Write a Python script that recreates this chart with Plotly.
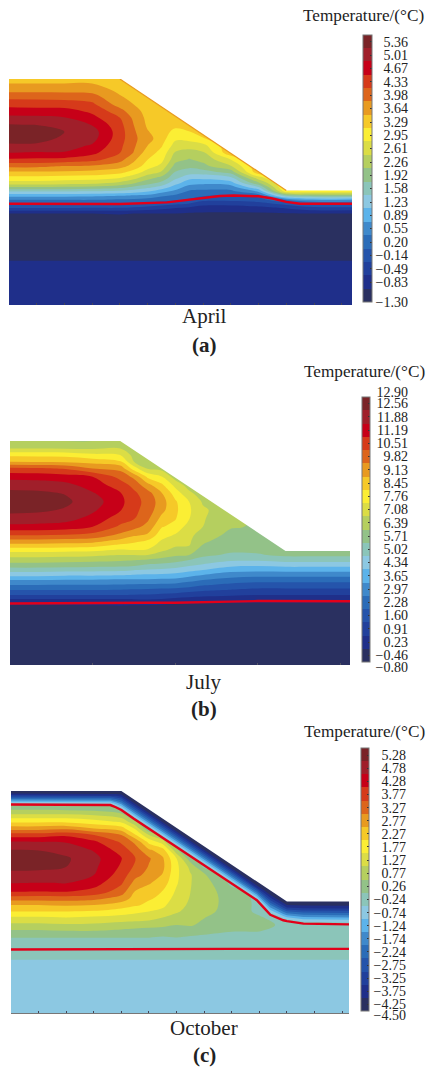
import numpy as np
import plotly.graph_objects as go

W, H = 426, 1067
BAND_COLORS = ["#2a3060","#1f2f8a","#21409c","#2554ab","#2b6cb8","#3f89cb","#5cb3ea","#8cc8e2","#8bc5b9","#93c288",
               "#b5cf5f","#dbdd45","#fbee34","#f6c928","#e89a20","#dd651b","#d63a1a","#c70018","#a01f2a","#7a2327"]

# ---------- April ----------
apr_x = [0,1,2,3,4,4.5,5,5.5,6,6.5,7,8,9,10,11,12.5]
apr_y = [0,1.6,3.0,3.3,3.5,3.65,3.8,3.95,4.1,4.25,4.4,4.6,4.8,5,5.25,5.5,5.75,6,6.25,6.5,6.75,7,7.25,7.5,7.75,8,8.25]
apr_columns = [
 [-.75,-1.0,-1.15,-1.0,-.30,.03,.40,.85,1.45,2.09,2.65,3.05,3.45,3.9,4.47,4.87,5.13,5.38,5.42,5.22,4.98,4.63,4.40,4.05,3.72,3.47,3.0],
 [-.75,-1.0,-1.15,-1.0,-.30,.03,.40,.85,1.45,2.09,2.65,3.05,3.45,3.9,4.45,4.84,5.12,5.36,5.45,5.19,4.95,4.62,4.38,4.05,3.72,3.47,3.0],
 [-.75,-1.0,-1.15,-1.0,-.30,.03,.40,.85,1.45,2.05,2.6,3.0,3.44,3.8,4.42,4.84,5.0,5.12,5.2,5.05,4.88,4.65,4.32,4.05,3.7,3.47,3.1],
 [-.75,-1.0,-1.15,-1.0,-.32,.03,.4,.83,1.4,2.0,2.55,2.97,3.38,3.76,4.3,4.62,4.82,4.98,5.02,4.84,4.62,4.43,4.23,3.97,3.7,3.47,3.1],
 [-.75,-1.0,-1.15,-.98,-.32,.02,.35,.76,1.33,1.87,2.35,2.83,3.25,3.6,3.95,4.18,4.25,4.32,4.33,4.28,4.17,3.95,3.65,3.52,3.38,3.3,3.2],
 [-.75,-1.0,-1.15,-1.0,-.38,-.02,.33,.7,1.25,1.68,2.13,2.6,3.0,3.35,3.55,3.81,3.88,3.9,3.88,3.82,3.75,3.6,3.47,3.36,3.28,3.2],
 [-.75,-1.0,-1.15,-1.0,-.45,-.08,.26,.65,1.1,1.5,1.9,2.25,2.65,2.95,3.14,3.3,3.48,3.62,3.5,3.42,3.38,3.36,3.38,3.4,3.42],
 [-.75,-1.0,-1.15,-1.0,-.55,-.15,.18,.45,.85,1.28,1.65,2.02,2.42,2.68,2.9,3.03,3.17,3.28,3.32,3.33,3.35,3.38,3.42],
 [-.75,-1.0,-1.15,-1.0,-.65,-.25,.1,.33,.64,.9,1.2,1.52,1.74,1.97,2.22,2.41,2.65,2.85,3.02,3.25,3.38,3.42],
 [-.75,-1.0,-1.15,-1.05,-.72,-.32,0,.17,.33,.57,.86,1.2,1.6,1.83,2.08,2.3,2.6,2.9,3.11,3.42],
 [-.75,-1.0,-1.15,-1.05,-.8,-.55,-.18,.08,.3,.52,.8,1.2,1.6,2.0,2.2,2.41,2.68,3.1,3.42],
 [-.75,-1.0,-1.15,-1.05,-.82,-.55,-.2,.03,.3,.54,.93,1.37,1.92,2.4,2.8,3.42],
 [-.75,-1.0,-1.15,-1.05,-.78,-.43,-.15,.2,.77,1.4,2.04,2.68,3.42],
 [-.75,-1.0,-1.15,-1.02,-.62,-.2,.42,1.7,3.05,3.3],
 [-.75,-1.0,-1.15,-1.0,-.4,.03,.76,1.95,3.0,3.3],
 [-.75,-1.0,-1.15,-1.0,-.4,.03,.76,1.95,3.0,3.3],
]
apr_surface_x = [0,4,10,12.37]
apr_surface_y = [8.15,8.15,4.13,4.13]
apr_zero_x = [0,4,5.7,6.9,7.6,8.1,9,9.5,10,10.5,12.37]
apr_zero_y = [3.65,3.64,3.70,3.85,3.93,3.95,3.92,3.84,3.72,3.65,3.65]
apr_labels = ["5.36","5.01","4.67","4.33","3.98","3.64","3.29","2.95","2.61","2.26","1.92","1.58","1.23","0.89","0.55","0.20","\u22120.14","\u22120.49","\u22120.83","\u22121.30"]
apr_label_pos = [5.36,5.01,4.67,4.33,3.98,3.64,3.29,2.95,2.61,2.26,1.92,1.58,1.23,0.89,0.55,0.20,-0.14,-0.49,-0.83,-1.34]

# ---------- July ----------
jul_x = [0,1,2,3,4,4.5,5,5.5,6,6.5,7,8,9,10,11,12.5]
jul_y = [0,1.93,2.17,2.35,2.53,2.71,2.89,3.07,3.25,3.43,3.61,3.79,3.97,4.15,4.33,4.51,4.69,4.99,5.29,5.60,5.90,6.20,6.50,6.80,7.10,7.34,7.58,7.82,8.09,8.30]
jul_columns = [
 [-.45,-.4,-.115,.42,1.255,1.94,2.625,3.3,4.2,5.0,5.75,6.4,7.0,7.7,8.55,9.37,10.16,11.35,11.95,12.4,12.8,12.4,11.95,11.3,10.3,8.79,7.95,6.735,6.05,5.8],
 [-.45,-.4,-.115,.42,1.255,1.94,2.625,3.3,4.2,5.0,5.75,6.4,7.0,7.7,8.55,9.37,10.16,11.3,11.9,12.35,12.72,12.35,11.9,11.25,10.25,8.75,7.95,6.72,6.05,5.8],
 [-.45,-.4,-.115,.42,1.25,1.94,2.6,3.25,4.1,4.95,5.7,6.35,6.95,7.65,8.5,9.3,10.1,11.2,11.8,12.15,12.35,12.18,11.75,11.1,10.1,8.7,7.9,6.7,6.05,5.8],
 [-.45,-.4,-.1,.42,1.255,1.94,2.6,3.25,4.1,4.9,5.65,6.25,6.87,7.6,8.4,9.2,9.93,10.845,11.3,11.65,11.85,11.6,11.2,10.845,9.475,8.55,7.6,6.65,6.05,5.8],
 [-.45,-.4,-.08,.43,1.25,1.9,2.55,3.2,4.05,4.85,5.6,6.15,6.735,7.33,8.0,8.67,9.3,10.03,10.5,10.9,11.05,10.9,10.5,9.95,9.25,8.2,7.42,6.735,6.3,6.1],
 [-.45,-.4,-.1,.45,1.22,1.85,2.52,3.2,3.95,4.7,5.5,6.08,6.735,7.42,7.9,8.33,8.9,9.7,10.2,10.35,10.4,10.3,9.95,9.3,7.75,6.735,6.5,6.4],
 [-.45,-.4,-.1,.5,1.2,1.8,2.5,3.2,3.9,4.6,5.27,5.95,6.735,7.35,7.75,8.105,8.67,9.25,9.6,9.85,9.95,9.75,9.0,7.95,6.65,6.5,6.4],
 [-.45,-.4,-.15,.45,1.1,1.75,2.45,3.15,3.85,4.55,5.15,5.85,6.35,6.9,7.15,7.4,7.7,8.15,8.6,9.0,9.1,8.85,8.25,7.45,6.5,6.4],
 [-.45,-.4,-.2,.3,1.0,1.7,2.4,3.1,3.77,4.45,5.0,5.65,6.15,6.5,6.85,7.05,7.35,7.9,8.15,8.25,8.2,7.8,7.2,6.4,6.3],
 [-.45,-.4,-.22,.25,.85,1.55,2.25,2.85,3.55,4.2,4.8,5.365,6.05,6.4,6.78,6.85,6.95,7.1,7.45,7.52,7.42,6.9,6.4],
 [-.45,-.4,-.3,.2,.75,1.38,2.0,2.625,3.31,3.995,4.6,5.1,5.5,5.75,6.02,6.2,6.35,6.735,6.8,6.85,6.65,6.35,6.3],
 [-.45,-.4,-.3,.15,.65,1.22,1.76,2.34,2.95,3.57,4.2,4.8,5.27,5.47,5.62,5.76,5.9,6.1,6.2,6.3],
 [-.45,-.4,-.3,.07,.57,1.08,1.63,2.2,2.85,3.5,4.13,4.78,5.3,5.5,5.65,5.78,5.9,6.0],
 [-.45,-.4,-.3,.07,.57,1.08,1.63,2.2,2.85,3.55,4.25,4.95,5.5,5.85,5.9],
 [-.45,-.4,-.3,.07,.57,1.08,1.63,2.2,2.85,3.55,4.25,4.95,5.5,5.85,5.9],
 [-.45,-.4,-.3,.07,.57,1.08,1.63,2.2,2.85,3.55,4.25,4.95,5.5,5.85,5.9],
]
jul_surface_x = [0,4,10,12.34]
jul_surface_y = [8.09,8.09,4.12,4.12]
jul_zero_x = [0,1,2,3,4,5,6,7,8,9,10,11,12.34]
jul_zero_y = [2.22,2.23,2.22,2.24,2.24,2.25,2.25,2.28,2.29,2.31,2.30,2.30,2.30]
jul_labels = ["12.90","12.56","11.88","11.19","10.51","9.82","9.13","8.45","7.76","7.08","6.39","5.71","5.02","4.34","3.65","2.97","2.28","1.60","0.91","0.23","\u22120.46","\u22120.80"]
jul_label_pos = [13.16,12.56,11.88,11.19,10.51,9.82,9.13,8.45,7.76,7.08,6.39,5.71,5.02,4.34,3.65,2.97,2.28,1.60,0.91,0.23,-0.46,-1.06]

# ---------- October ----------
oct_x = [0,1,2,3,4,4.5,5,5.5,6,6.5,7,8,9,10,11,12.5]
oct_y = [0,1.81,2.06,2.36,2.72,2.96,3.20,3.45,3.69,3.93,4.17,4.41,4.72,5.02,5.32,5.62,5.93,6.23,6.47,6.71,6.95,7.19,7.44,7.68,7.92,8.10]
oct_columns = [
 [-.62,-.56,-.40,-.1,0,.41,.9,1.4,2.04,2.54,3.3,4.05,4.55,4.9,5.2,5.38,5.05,4.55,3.8,2.8,1.95,1.15,.35],
 [-.62,-.56,-.40,-.1,0,.41,.9,1.4,2.04,2.54,3.28,4.03,4.53,4.88,5.17,5.32,5.03,4.53,3.8,2.8,1.95,1.15,.35],
 [-.62,-.56,-.40,-.1,0,.47,.96,1.47,2.04,2.6,3.3,4.05,4.55,4.78,5.05,5.12,4.85,4.5,3.95,2.9,1.95,1.15,.3],
 [-.62,-.56,-.40,-.1,0,.47,.93,1.4,1.98,2.54,3.2,3.87,4.25,4.55,4.65,4.7,4.5,4.13,3.55,2.54,1.75,1.03,.25],
 [-.62,-.56,-.40,-.1,0,.37,.84,1.28,1.8,2.3,2.85,3.27,3.6,3.8,3.97,4.07,3.8,3.45,3.04,2.25,1.45,.7,.03],
 [-.62,-.56,-.40,-.1,0,.3,.8,1.23,1.65,2.12,2.33,2.5,2.85,3.2,3.45,3.55,3.3,2.9,2.1,1.45,.6,0],
 [-.62,-.56,-.40,-.1,0,.3,.7,1.2,1.53,1.9,2.1,2.3,2.58,2.85,3.0,3.1,2.6,1.85,1.03,0],
 [-.62,-.56,-.40,-.1,-.05,.25,.65,1.0,1.4,1.65,1.9,2.0,2.28,2.5,2.65,2.6,2.25,1.2,.55,-.1],
 [-.62,-.56,-.40,-.1,0,.2,.53,.85,1.08,1.2,1.3,1.45,1.58,1.63,1.65,1.53,.6,-.2],
 [-.62,-.56,-.40,-.1,-.03,.13,.6,.75,.88,.95,1.0,1.03,1.05,1.07,.9,.2,-.2],
 [-.62,-.56,-.40,-.1,-.05,.09,.35,.53,.65,.72,.77,.8,.78,.6,-.1],
 [-.62,-.56,-.40,-.1,-.08,.025,.2,.3,.35,.34,.3,.2,-.1],
 [-.62,-.56,-.40,-.1,-.1,.02,.12,.1,-.1],
 [-.62,-.56,-.40,-.1,-.1,-.08,-.05,-.3],
 [-.62,-.56,-.40,-.1,-.1,-.09,-.06,-.3],
 [-.62,-.56,-.40,-.1,-.1,-.09,-.06,-.3],
]
oct_surface_x = [0,4,10,12.25]
oct_surface_y = [8.07,8.07,4.05,4.05]
oct_zero_x = [0,3.6,3.8,4,4.44,6,8.07,8.91,9.16,9.4,9.87,10,10.6,12.25]
oct_zero_y = [7.58,7.56,7.48,7.38,7.07,6.04,4.65,4.10,3.83,3.57,3.37,3.34,3.25,3.22]
oct_lower_zero_x = [0,2,4,6,8,10,12.25]
oct_lower_zero_y = [2.31,2.32,2.32,2.32,2.33,2.33,2.33]
oct_skin_fraction = [1,.92,.8,.7,.6,.5,.4,.3,.18]
oct_skin_band = [8,7,6,5,4,3,2,1,0]
oct_labels = ["5.28","4.78","4.28","3.77","3.27","2.77","2.27","1.77","1.27","0.77","0.26","\u22120.24","\u22120.74","\u22121.24","\u22121.74","\u22122.24","\u22122.75","\u22123.25","\u22123.75","\u22124.25","\u22124.50"]
oct_label_pos = [5.28,4.78,4.28,3.77,3.27,2.77,2.27,1.77,1.27,0.77,0.26,-0.24,-0.74,-1.24,-1.74,-2.24,-2.75,-3.25,-3.75,-4.25,-4.66]

PANELS = [
 dict(x=apr_x,y=apr_y,cols=apr_columns,sx=apr_surface_x,sy=apr_surface_y,zx=apr_zero_x,zy=apr_zero_y,labels=apr_labels,pos=apr_label_pos,
      start=-1.0,size=.3445,end=5.21,zmin=-1.344,zmax=5.53,box=(9,352,79,305),bar=(363,372,35,302),labx=408),
 dict(x=jul_x,y=jul_y,cols=jul_columns,sx=jul_surface_x,sy=jul_surface_y,zx=jul_zero_x,zy=jul_zero_y,labels=jul_labels,pos=jul_label_pos,
      start=-.115,size=.685,end=12.25,zmin=-.8,zmax=12.9,box=(10,350,441,665),bar=(362,370,397,662),labx=408),
 dict(x=oct_x,y=oct_y,cols=oct_columns,sx=oct_surface_x,sy=oct_surface_y,zx=oct_zero_x,zy=oct_zero_y,labels=oct_labels,pos=oct_label_pos,
      start=-3.9975,size=.5025,end=5.08,zmin=-4.5,zmax=5.55,box=(11,349,791,1013),bar=(361,369,748,1011),labx=406),
]

fig = go.Figure()
FONT = "Liberation Serif"
colorscale = [[i/(len(BAND_COLORS)-1), c] for i, c in enumerate(BAND_COLORS)]
layout = {}

for i, p in enumerate(PANELS):
    n = i + 1
    xa, ya = ("x" if n == 1 else f"x{n}"), ("y" if n == 1 else f"y{n}")
    xk, yk = ("xaxis" if n == 1 else f"xaxis{n}"), ("yaxis" if n == 1 else f"yaxis{n}")
    ny = len(p["y"])
    z = np.array([c + [c[-1]] * (ny - len(c)) for c in p["cols"]], dtype=float).T
    L, R, T, B = p["box"]
    bL, bR, bT, bB = p["bar"]
    fig.add_trace(go.Contour(
        x=p["x"], y=p["y"], z=z, xaxis=xa, yaxis=ya, colorscale=colorscale, zmin=p["zmin"], zmax=p["zmax"],
        contours=dict(coloring="fill", showlines=False, start=p["start"], end=p["end"], size=p["size"]),
        line=dict(width=0, smoothing=1.0), hoverinfo="skip",
        colorbar=dict(x=bL/W, xanchor="left", thickness=bR-bL, thicknessmode="pixels", xpad=0, ypad=0,
                      y=1-bB/H, yanchor="bottom", len=(bB-bT)/H, lenmode="fraction",
                      outlinecolor="#777", outlinewidth=1, borderwidth=0, showticklabels=False,
                      ticks="inside", ticklen=2, tickcolor="#333", tickmode="array",
                      tickvals=[v for v in p["pos"] if p["zmin"] <= v <= p["zmax"]]),
    ))
    if n == 3:
        for frac, band in zip(oct_skin_fraction, oct_skin_band):
            surf = np.interp(oct_zero_x, p["sx"], p["sy"])
            line_y = surf - frac * (surf - np.array(oct_zero_y))
            px = list(oct_zero_x) + [p["sx"][-1], 0, 0]
            py = list(line_y) + [9, 9, line_y[0]]
            fig.add_trace(go.Scatter(x=px, y=py, xaxis=xa, yaxis=ya, mode="lines", fill="toself",
                                     fillcolor=BAND_COLORS[band], line=dict(width=0), hoverinfo="skip", showlegend=False))
    # blank the air above the ground surface
    fig.add_trace(go.Scatter(x=p["sx"] + [p["sx"][-1], 0, p["sx"][0]], y=p["sy"] + [9.5, 9.5, p["sy"][0]],
                             xaxis=xa, yaxis=ya, mode="lines", fill="toself", fillcolor="white",
                             line=dict(width=0), hoverinfo="skip", showlegend=False))
    if n == 1:
        fig.add_trace(go.Scatter(x=p["sx"][1:3], y=p["sy"][1:3], xaxis=xa, yaxis=ya, mode="lines",
                                 line=dict(color=BAND_COLORS[14], width=1.2), hoverinfo="skip", showlegend=False))
    fig.add_trace(go.Scatter(x=p["zx"], y=p["zy"], xaxis=xa, yaxis=ya, mode="lines",
                             line=dict(color="#e2001a", width=2.4), hoverinfo="skip", showlegend=False))
    if n == 3:
        fig.add_trace(go.Scatter(x=oct_lower_zero_x, y=oct_lower_zero_y, xaxis=xa, yaxis=ya, mode="lines",
                                 line=dict(color="#e2001a", width=2.4), hoverinfo="skip", showlegend=False))
    layout[xk] = dict(domain=[L/W, R/W], range=[0, p["sx"][-1]], anchor=ya, showgrid=False, zeroline=False,
                      showticklabels=False, tickmode="linear", tick0=0, dtick=1 if n != 2 else 3,
                      ticks="inside", ticklen=2, tickcolor="#445" if n != 2 else "#556",
                      showline=(n == 3), linecolor="#777", linewidth=1)
    layout[yk] = dict(domain=[1-B/H, 1-T/H], range=[0, p["sy"][0]], anchor=xa, visible=False)

    # right-aligned scale labels on their own free axis
    lab_n = n + 3
    per_px = (p["zmax"] - p["zmin"]) / (bB - bT)
    pad = 14
    layout[f"xaxis{lab_n}"] = dict(domain=[0.9, 0.95], range=[0, 1], visible=False, anchor=f"y{lab_n}")
    layout[f"yaxis{lab_n}"] = dict(domain=[1-(bB+pad)/H, 1-(bT-pad)/H], range=[p["zmin"]-pad*per_px, p["zmax"]+pad*per_px],
                                   anchor="free", position=p["labx"]/W, side="left", showgrid=False, zeroline=False,
                                   showline=False, ticks="", tickmode="array", tickvals=p["pos"], ticktext=p["labels"],
                                   tickfont=dict(family=FONT, size=14, color="#222"), automargin=False)
    fig.add_trace(go.Scatter(x=[0]*len(p["pos"]), y=p["pos"], xaxis=f"x{lab_n}", yaxis=f"y{lab_n}", mode="markers",
                             marker=dict(opacity=0), hoverinfo="skip", showlegend=False))

annotations = []
def text(s, cx, cy, size, bold=False):
    annotations.append(dict(text=f"<b>{s}</b>" if bold else s, x=cx/W, y=1-cy/H, xref="paper", yref="paper",
                            showarrow=False, xanchor="center", yanchor="middle",
                            font=dict(family=FONT, size=size, color="#222")))
for s, cx, cy in [("Temperature/(\u00b0C)", 363, 15), ("Temperature/(\u00b0C)", 364, 371), ("Temperature/(\u00b0C)", 364.5, 732)]:
    text(s, cx, cy, 17.2)
for s, cy in [("April", 316), ("July", 682), ("October", 1028)]:
    text(s, 204, cy, 21)
for s, cy in [("(a)", 345), ("(b)", 709), ("(c)", 1055)]:
    text(s, 204, cy, 21, bold=True)

fig.update_layout(width=W, height=H, margin=dict(l=0, r=0, t=0, b=0), paper_bgcolor="white", plot_bgcolor="white",
                  showlegend=False, annotations=annotations, **layout)
fig.write_html("out.html", config=dict(displayModeBar=False),
               post_script="document.body.style.margin='0';document.documentElement.style.overflow='hidden';")
